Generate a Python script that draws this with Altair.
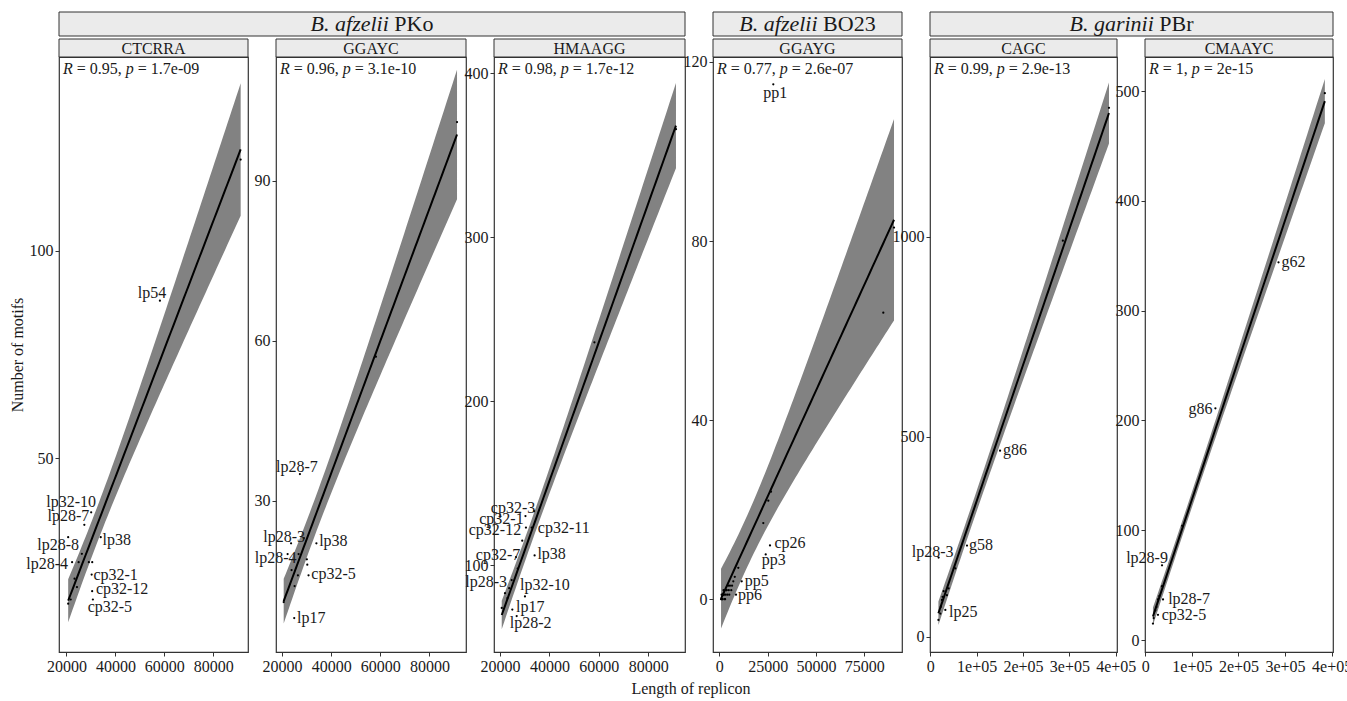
import altair as alt
import numpy as np
import pandas as pd

FONT = "Liberation Serif"
INK = "#1a1a1a"
FRAME = "#333333"
STRIP_FILL = "#ebebeb"
BAND_FILL = "#828282"

# ---- panels: motif, genome group, correlation text ----
motifs = ["CTCRRA", "GGAYC", "HMAAGG", "GGAYG", "CAGC", "CMAAYC"]
groups = [("B. afzelii", "PKo", [0, 1, 2]),
          ("B. afzelii", "BO23", [3]),
          ("B. garinii", "PBr", [4, 5])]
cor_r = ["0.95", "0.96", "0.98", "0.77", "0.99", "1"]
cor_p = ["1.7e-09", "3.1e-10", "1.7e-12", "2.6e-07", "2.9e-13", "2e-15"]

# ---- replicon length (bp), number of motifs, replicon name ----
ctcrra_len = [20700, 21740, 22300, 23300, 24290, 20700, 27300, 30100, 34000, 24980, 26300, 29150, 30530, 30300, 30500, 30800, 58200, 91200]
ctcrra_n = [15, 16, 25, 21, 19, 31, 34, 37, 31, 25, 27, 25, 25, 22, 18, 16, 88, 122]
ctcrra_rep = ["", "", "lp28-4", "", "", "lp28-8", "lp28-7", "lp32-10", "lp38", "", "", "", "", "cp32-1", "cp32-12", "cp32-5", "lp54", ""]

ggayc_len = [20700, 22300, 23700, 23900, 24980, 25140, 26480, 26760, 27300, 28900, 30120, 30300, 30800, 34000, 58200, 91200]
ggayc_n = [11, 20, 22, 17, 8, 14, 16, 20, 35, 23, 19, 18, 16, 22, 57, 101]
ggayc_rep = ["", "lp28-4", "lp28-3", "", "lp17", "", "", "", "lp28-7", "", "", "", "cp32-5", "lp38", "", ""]

hmaagg_len = [20700, 22020, 23000, 23700, 24720, 24980, 26480, 26750, 27150, 29000, 30100, 30300, 30500, 32830, 33770, 34000, 58200, 91200]
hmaagg_n = [74, 83, 80, 86, 91, 73, 105, 69, 98, 115, 81, 130, 123, 123, 133, 106, 236, 366]
hmaagg_rep = ["", "", "", "lp28-3", "", "lp17", "cp32-7", "lp28-2", "", "", "lp32-10", "cp32-1", "cp32-12", "cp32-11", "cp32-3", "lp38", "", ""]

ggayg_len = [900, 1200, 1240, 1500, 1760, 1760, 2000, 2200, 2500, 2800, 3000, 3300, 3600, 3830, 4200, 4600, 4900, 5170, 5530, 6200, 6600, 7240, 8000, 8640, 9830, 11590, 22760, 24000, 25350, 26220, 26740, 27930, 84830, 90370]
ggayg_n = [0, 1, 0, 0, 0, 1, 1, 2, 1, 0, 0, 1, 2, 2, 1, 3, 2, 1, 3, 2, 3, 4, 5, 1, 7, 4, 17, 10, 22, 12, 24, 115, 64, 83]
ggayg_rep = ["", "", "", "", "", "", "", "", "", "", "", "", "", "", "", "", "", "", "", "", "", "", "", "pp6", "", "pp5", "", "pp3", "", "cp26", "", "pp1", "", ""]

cagc_len = [17500, 17950, 21620, 22800, 25080, 26500, 28760, 32430, 35900, 39570, 54050, 79140, 150500, 286000, 385500]
cagc_n = [42, 198, 58, 75, 92, 100, 114, 67, 104, 121, 171, 228, 465, 990, 1322]
cagc_rep = ["", "lp28-3", "", "", "", "", "", "lp25", "", "", "", "g58", "g86", "", ""]

cmaayc_len = [16430, 17950, 21620, 24000, 27240, 27240, 30000, 35900, 35900, 38060, 79140, 150500, 286000, 385500]
cmaayc_n = [15, 20, 27, 30, 23, 37, 40, 49, 68, 37, 104, 211, 344, 498]
cmaayc_rep = ["", "", "", "", "cp32-5", "", "", "", "lp28-9", "lp28-7", "", "g86", "g62", ""]

lengths = [ctcrra_len, ggayc_len, hmaagg_len, ggayg_len, cagc_len, cmaayc_len]
counts = [ctcrra_n, ggayc_n, hmaagg_n, ggayg_n, cagc_n, cmaayc_n]
replicons = [ctcrra_rep, ggayc_rep, hmaagg_rep, ggayg_rep, cagc_rep, cmaayc_rep]

# ---- axis limits and tick values ----
x_limits = [[16950, 94200], [17570, 94850], [17570, 94850], [-3260, 94500], [-650, 402800], [-650, 403000]]
y_limits = [[3.35, 146.7], [1.63, 113.2], [47.1, 410], [-11.8, 121.1], [-38, 1449], [-10.9, 531]]
x_ticks = [[20000, 40000, 60000, 80000]] * 3 + [[0, 25000, 50000, 75000]] + [[0, 100000, 200000, 300000, 400000]] * 2
y_ticks = [[50, 100], [30, 60, 90], [100, 200, 300, 400], [0, 40, 80, 120], [0, 500, 1000], [0, 100, 200, 300, 400, 500]]

# ---- layout (pixels) ----
panel_width = [189, 190, 191, 189, 187, 188]
panel_height = 595
gap = 28
page_w, page_h = 1347, 701
origin_x, origin_y = 59, 57          # top-left corner of the first panel

# repel-style placement of replicon names: pixel shift from the point
label_nudge = {
    ("CTCRRA", "lp54"): (-8, -8), ("CTCRRA", "lp32-10"): (-20, -10), ("CTCRRA", "lp28-7"): (-16, -9),
    ("CTCRRA", "lp28-8"): (-10, 8), ("CTCRRA", "lp38"): (16, 3), ("CTCRRA", "lp28-4"): (-25, 2),
    ("CTCRRA", "cp32-1"): (24, 0), ("CTCRRA", "cp32-12"): (30, -2), ("CTCRRA", "cp32-5"): (17, 8),
    ("GGAYC", "lp28-7"): (-3, -7), ("GGAYC", "lp28-3"): (-7, -6), ("GGAYC", "lp38"): (17, -2),
    ("GGAYC", "lp28-4"): (-12, 4), ("GGAYC", "cp32-5"): (25, -1), ("GGAYC", "lp17"): (17, 0),
    ("HMAAGG", "cp32-3"): (-21, -3), ("HMAAGG", "cp32-1"): (-24, 3), ("HMAAGG", "cp32-12"): (-31, 2),
    ("HMAAGG", "cp32-11"): (32, 0), ("HMAAGG", "cp32-7"): (-18, -2), ("HMAAGG", "lp38"): (17, -1),
    ("HMAAGG", "lp28-3"): (-23, -6), ("HMAAGG", "lp32-10"): (20, -11), ("HMAAGG", "lp17"): (18, -3),
    ("HMAAGG", "lp28-2"): (14, 7),
    ("GGAYG", "pp1"): (2, 9), ("GGAYG", "cp26"): (20, -2), ("GGAYG", "pp3"): (8, 6),
    ("GGAYG", "pp5"): (15, 0), ("GGAYG", "pp6"): (14, 0),
    ("CAGC", "g86"): (15, -1), ("CAGC", "g58"): (14, -1), ("CAGC", "lp28-3"): (-6, -6), ("CAGC", "lp25"): (18, 2),
    ("CMAAYC", "g86"): (-15, 1), ("CMAAYC", "g62"): (15, 0), ("CMAAYC", "lp28-9"): (-15, -7),
    ("CMAAYC", "lp28-7"): (26, 0), ("CMAAYC", "cp32-5"): (26, 0),
}

# advance widths (1/1000 em) of the serif face, for setting italic and roman runs side by side
ROMAN = {" ": 250, ",": 250, ".": 250, "-": 333, "=": 564, "B": 667, "K": 722, "O": 722, "P": 556,
         "e": 444, "o": 500, "r": 333}
ROMAN.update({d: 500 for d in "0123456789"})
ITALIC = {" ": 250, ".": 250, "B": 611, "R": 611, "a": 500, "e": 444, "f": 278, "g": 500, "i": 278,
          "l": 278, "n": 500, "p": 500, "r": 389, "z": 389}


def run_width(s, italic, size):
    table = ITALIC if italic else ROMAN
    return sum(table.get(ch, 500) for ch in s) * size / 1000.0


def t975(df):
    # Cornish-Fisher expansion of the 97.5% Student t quantile
    z = 1.959964
    return (z + (z ** 3 + z) / (4 * df) + (5 * z ** 5 + 16 * z ** 3 + 3 * z) / (96 * df ** 2)
            + (3 * z ** 7 + 19 * z ** 5 + 17 * z ** 3 - 15 * z) / (384 * df ** 3))


def lm_band(xv, yv):
    x = np.asarray(xv, float)
    y = np.asarray(yv, float)
    n = len(x)
    slope, icpt = np.polyfit(x, y, 1)
    resid = y - (icpt + slope * x)
    s = np.sqrt((resid ** 2).sum() / (n - 2))
    sxx = ((x - x.mean()) ** 2).sum()
    grid = np.linspace(x.min(), x.max(), 80)
    fit = icpt + slope * grid
    se = s * np.sqrt(1.0 / n + (grid - x.mean()) ** 2 / sxx)
    t = t975(n - 2)
    return pd.DataFrame({"length": grid, "fit": fit, "lo": fit - t * se, "hi": fit + t * se})


def one_text(txt):
    return pd.DataFrame({"label": [txt]})


def text_layer(txt, x, y, size=16, italic=False, align="left", baseline="alphabetic"):
    return alt.Chart(one_text(txt)).mark_text(
        font=FONT, fontSize=size, fontStyle="italic" if italic else "normal",
        color=INK, align=align, baseline=baseline
    ).encode(x=alt.value(x), y=alt.value(y), text="label:N")


def make_panel(i):
    name = motifs[i]
    W = panel_width[i]
    pts = pd.DataFrame({"length": lengths[i], "motifs": counts[i], "replicon": replicons[i]})
    band = lm_band(lengths[i], counts[i])

    if i >= 4:
        xfmt = dict(labelExpr="datum.value == 0 ? '0' : replace(format(datum.value, '.0e'), 'e+', 'e+0')")
    else:
        xfmt = dict(format="d")
    common = dict(labelFont=FONT, labelFontSize=16, labelColor=INK, tickColor=FRAME, tickSize=4,
                  labelPadding=2, domain=False, grid=False, labelFlush=False, labelOverlap=False)
    xaxis = alt.Axis(values=x_ticks[i], title=None, **xfmt, **common)
    if i == 0:
        yaxis = alt.Axis(values=y_ticks[i], format="d", title="Number of motifs", titleFont=FONT,
                         titleFontSize=16, titleFontWeight="normal", titleColor=INK, titlePadding=4, **common)
    else:
        yaxis = alt.Axis(values=y_ticks[i], format="d", title=None, **common)

    xs = alt.Scale(domain=x_limits[i], nice=False, zero=False)
    ys = alt.Scale(domain=y_limits[i], nice=False, zero=False)

    area = alt.Chart(band).mark_area(color=BAND_FILL, opacity=1, clip=True).encode(
        x=alt.X("length:Q", scale=xs, axis=xaxis),
        y=alt.Y("lo:Q", scale=ys, axis=yaxis),
        y2="hi:Q",
    )
    line = alt.Chart(band).mark_line(color="black", strokeWidth=2, clip=True).encode(
        x="length:Q", y="fit:Q")
    dots = alt.Chart(pts).mark_circle(color="black", size=5, opacity=1).encode(
        x="length:Q", y="motifs:Q")

    layers = [area, line, dots]

    for rep in [r for r in replicons[i] if r]:
        dx, dy = label_nudge.get((name, rep), (0, -8))
        layers.append(
            alt.Chart(pts).transform_filter(alt.datum.replicon == rep).mark_text(
                font=FONT, fontSize=16, color=INK, align="center", baseline="middle", dx=dx, dy=dy
            ).encode(x="length:Q", y="motifs:Q", text="replicon:N")
        )

    # correlation annotation: italic R and p, roman numbers
    fs = 16
    sp = run_width(" ", False, fs)
    x0 = 4
    x1 = x0 + run_width("R", True, fs) + sp
    seg1 = "= " + cor_r[i] + ","
    x2 = x1 + run_width(seg1, False, fs) + sp
    x3 = x2 + run_width("p", True, fs) + sp
    seg2 = "= " + cor_p[i]
    layers += [
        text_layer("R", x0, 17, italic=True),
        text_layer(seg1, x1, 17),
        text_layer("p", x2, 17, italic=True),
        text_layer(seg2, x3, 17),
    ]

    # strip with the motif name
    layers.append(alt.Chart(one_text(name)).mark_rect(fill=STRIP_FILL, stroke=FRAME, strokeWidth=1).encode(
        x=alt.value(0), x2=alt.value(W), y=alt.value(-18), y2=alt.value(0)))
    layers.append(text_layer(name, W / 2, -3.5, align="center"))

    # genome strip spanning the panels of the group
    for ital, roman, members in groups:
        if members[0] == i:
            span = sum(panel_width[m] for m in members) + gap * (len(members) - 1)
            gs = 22
            wi = run_width(ital, True, gs)
            ws = run_width(" ", False, gs)
            wr = run_width(roman, False, gs)
            start = span / 2 - (wi + ws + wr) / 2
            layers.append(alt.Chart(one_text(ital)).mark_rect(fill=STRIP_FILL, stroke=FRAME, strokeWidth=1).encode(
                x=alt.value(0), x2=alt.value(span), y=alt.value(-45), y2=alt.value(-21)))
            layers.append(text_layer(ital, start, -26.5, size=gs, italic=True))
            layers.append(text_layer(roman, start + wi + ws, -26.5, size=gs))

    if i == 2:
        layers.append(text_layer("Length of replicon", 197, 637, align="center"))

    return alt.layer(*layers).properties(width=W, height=panel_height)


# fixed page: the panel grid is anchored at (origin_x, origin_y); axes and strips sit in the padding
chart = alt.hconcat(*[make_panel(i) for i in range(6)], spacing=gap, bounds="flush").properties(
    autosize=alt.AutoSizeParams(type="none"),
    padding={"left": origin_x, "top": origin_y,
             "right": page_w - origin_x, "bottom": page_h - origin_y},
    background="white",
).configure_view(stroke=FRAME, strokeWidth=1.2)

chart.save("out.html", embed_options={"renderer": "svg", "actions": False})
